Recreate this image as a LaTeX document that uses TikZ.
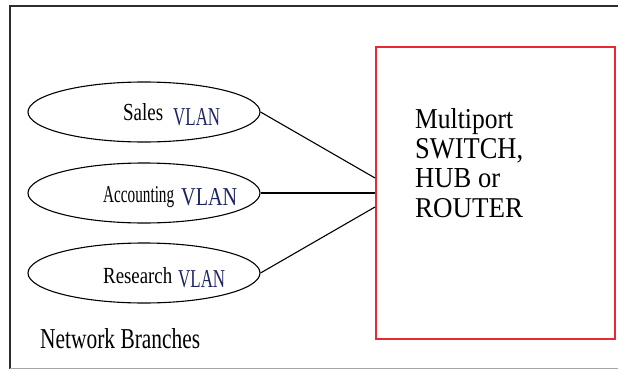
\documentclass[tikz,border=0pt]{standalone}
\usepackage{fontspec}
\setmainfont{Liberation Serif}
\usetikzlibrary{shapes.geometric}
\definecolor{boxred}{RGB}{232,40,50}
\definecolor{vlan}{RGB}{30,35,100}
\definecolor{frame}{RGB}{45,45,45}
\newcommand\fitt[3]{\resizebox{#1pt}{#2pt}{#3}}
\begin{document}
\begin{tikzpicture}[x=1pt,y=-1pt,
  branch/.style={ellipse,draw,line width=1.1pt,minimum width=232pt,minimum height=60pt,inner sep=0pt},
  lbl/.style={anchor=base west,inner sep=0pt,font=\fontsize{24}{24}\selectfont},
  vl/.style={lbl,text=vlan},
  link/.style={line width=1.1pt}]
\useasboundingbox (0,0) rectangle (618,369);
% outer frame
\draw[frame,line width=1.5pt] (618,6) -- (10,6) -- (10,368.5);
\draw[gray!70,line width=1pt] (10,368.5) -- (618,368.5);
% switch box
\node[draw=boxred,line width=1.6pt,minimum width=239pt,minimum height=292pt,inner sep=0pt] (sw) at (495.5,193) {};
\node[lbl] (t1) at (415,128) {\fitt{98}{20}{Multiport}};
\node[lbl] (t2) at (415,158) {\fitt{108}{20}{SWITCH,}};
\node[lbl] (t3) at (415,187) {\fitt{85}{19}{HUB or}};
\node[lbl] (t4) at (415,217) {\fitt{108}{19}{ROUTER}};
% branches
\node[branch] (sales) at (144,112) {};
\node[branch] (acct) at (144,193) {};
\node[branch] (res) at (144,273) {};
\node[lbl] (l1) at (123,120) {\fitt{40}{17}{Sales}};
\node[vl] (v1) at (173,125) {\fitt{47}{17}{VLAN}};
\node[lbl] (l2) at (103,202) {\fitt{71}{16}{Accounting}};
\node[vl] (v2) at (181,205) {\fitt{56}{17}{VLAN}};
\node[lbl] (l3) at (103,283) {\fitt{69}{16}{Research}};
\node[vl] (v3) at (178,287) {\fitt{47}{17}{VLAN}};
\node[lbl] (nb) at (40,348) {\fitt{160}{20}{Network Branches}};
% connectors
\coordinate (e1) at (375,178);
\coordinate (e3) at (375,207);
\draw[link] (sales.east) -- (e1);
\draw[link] (acct.east) -- (sw.west);
\draw[link] (res.east) -- (e3);
\end{tikzpicture}
\end{document}
